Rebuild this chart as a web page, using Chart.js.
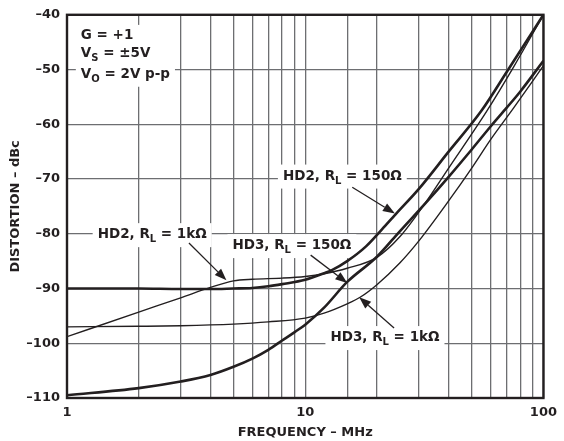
<!DOCTYPE html>
<html><head><meta charset="utf-8">
<script src="https://cdn.jsdelivr.net/npm/chart.js@4"></script>
<style>html,body{margin:0;padding:0;background:#fff;}</style>
</head><body>
<canvas id="c" width="564" height="441"></canvas>
<script>
const FONT = '"DejaVu Sans", sans-serif';
const INK = '#231f20';

// X tick labels shown (MHz) and Y range (dBc)
const xLabelValues = [1, 10, 100];
const yMin = -110, yMax = -40, yStep = 10;

// HD2, RL = 150 ohm
const freqHD2_150 = [1, 2, 3, 4, 5, 6, 7, 8, 10, 12, 13, 15, 18, 21, 24, 30, 40, 55, 70, 100];
const hd2_150     = [-90, -90, -90.1, -90.1, -90, -89.9, -89.6, -89.2, -88.4, -87.2, -86.6, -85, -82.3, -79.2, -76.4, -71.8, -65, -57.5, -50.5, -40];

// HD2, RL = 1k ohm
const freqHD2_1k = [1, 2, 3, 4, 5, 6, 8, 10, 12, 15, 20, 25, 32, 40, 58, 75, 100];
const hd2_1k     = [-98.8, -94.3, -91.7, -89.8, -88.6, -88.3, -88.1, -87.8, -87.3, -86.3, -84.3, -80.5, -74.3, -68, -57.5, -49.5, -40];

// HD3, RL = 150 ohm
const freqHD3_150 = [1, 2, 3, 4, 5, 6, 7, 8, 9, 10, 12, 15, 20, 25, 32, 40, 50, 60, 70, 80, 100];
const hd3_150     = [-109.5, -108.2, -107, -105.8, -104.3, -102.8, -101.2, -99.5, -98, -96.6, -93.5, -88.8, -84.2, -79.5, -74.4, -69.6, -64.6, -60.4, -57, -54, -48.4];

// HD3, RL = 1k ohm
const freqHD3_1k = [1, 2, 3, 5, 7, 10, 12, 15, 17, 20, 25, 30, 40, 50, 60, 75, 100];
const hd3_1k     = [-97, -96.9, -96.8, -96.5, -96.1, -95.4, -94.5, -92.8, -91.6, -89.3, -85.3, -81.3, -74, -68, -62.8, -57, -49.3];

const pts = (xs, ys) => xs.map((x, i) => ({x, y: ys[i]}));

// annotation text (parts: [text, isSubscript]) anchored at (MHz, dBc)
const condLines = [
  [['G = +1', 0]],
  [['V', 0], ['S', 1], [' = \u00B15V', 0]],
  [['V', 0], ['O', 1], [' = 2V p-p', 0]]
];
const condAnchor = {f: 1.143, v: [-44.4, -47.8, -51.5]};

const curveLabels = [
  {parts: [['HD2, R', 0], ['L', 1], [' = 150\u03A9', 0]], f: 8.06, v: -70.1},
  {parts: [['HD2, R', 0], ['L', 1], [' = 1k\u03A9', 0]], f: 1.345, v: -80.8},
  {parts: [['HD3, R', 0], ['L', 1], [' = 150\u03A9', 0]], f: 4.95, v: -82.8},
  {parts: [['HD3, R', 0], ['L', 1], [' = 1k\u03A9', 0]], f: 12.76, v: -99.6}
];
// arrows: from (f,v) to tip (f,v)
const arrows = [
  [[15.76, -71.5], [23.8, -76.3]],
  [[3.25, -81.7], [4.67, -88.5]],
  [[10.54, -83.9], [15.02, -89.0]],
  [[23.6, -97.2], [16.85, -91.6]]
];

const MAINF = 'bold 13.5px ' + FONT;
const SUBF = 'bold 10px ' + FONT;

function partsWidth(ctx, parts) {
  let w = 0;
  for (const [t, s] of parts) { ctx.font = s ? SUBF : MAINF; w += ctx.measureText(t).width; }
  return w;
}
function drawParts(ctx, parts, x, y) {
  ctx.textBaseline = 'alphabetic';
  ctx.textAlign = 'left';
  ctx.fillStyle = INK;
  for (const [t, s] of parts) {
    ctx.font = s ? SUBF : MAINF;
    ctx.fillText(t, x, s ? y + 4 : y);
    x += ctx.measureText(t).width;
  }
}

const annot = {
  id: 'annot',
  beforeDatasetsDraw(chart) {
    const ctx = chart.ctx, xs = chart.scales.x, ys = chart.scales.y;
    ctx.save();
    // condition block
    const cx = xs.getPixelForValue(condAnchor.f);
    let maxW = 0;
    condLines.forEach(l => maxW = Math.max(maxW, partsWidth(ctx, l)));
    const yTop = ys.getPixelForValue(condAnchor.v[0]) - 14;
    const yBot = ys.getPixelForValue(condAnchor.v[2]) + 9;
    ctx.fillStyle = '#fff';
    ctx.fillRect(cx - 5, Math.max(yTop, chart.chartArea.top + 1.5), maxW + 10, yBot - Math.max(yTop, chart.chartArea.top + 1.5));
    condLines.forEach((l, i) => drawParts(ctx, l, cx, ys.getPixelForValue(condAnchor.v[i])));
    // curve labels
    for (const lb of curveLabels) {
      const x = xs.getPixelForValue(lb.f), y = ys.getPixelForValue(lb.v);
      const w = partsWidth(ctx, lb.parts);
      ctx.fillStyle = '#fff';
      ctx.fillRect(x - 5, y - 15, w + 10, 24);
      drawParts(ctx, lb.parts, x, y);
    }
    ctx.restore();
  },
  afterDatasetsDraw(chart) {
    const ctx = chart.ctx, xs = chart.scales.x, ys = chart.scales.y;
    ctx.save();
    ctx.strokeStyle = INK; ctx.fillStyle = INK; ctx.lineWidth = 1.3;
    for (const [a, b] of arrows) {
      const x0 = xs.getPixelForValue(a[0]), y0 = ys.getPixelForValue(a[1]);
      const x1 = xs.getPixelForValue(b[0]), y1 = ys.getPixelForValue(b[1]);
      const ang = Math.atan2(y1 - y0, x1 - x0);
      const hl = 12, hw = 4.5;
      const bx = x1 - hl * Math.cos(ang), by = y1 - hl * Math.sin(ang);
      ctx.beginPath(); ctx.moveTo(x0, y0); ctx.lineTo(bx, by); ctx.stroke();
      ctx.beginPath();
      ctx.moveTo(x1, y1);
      ctx.lineTo(bx + hw * Math.sin(ang), by - hw * Math.cos(ang));
      ctx.lineTo(bx - hw * Math.sin(ang), by + hw * Math.cos(ang));
      ctx.closePath(); ctx.fill();
    }
    ctx.restore();
  },
  afterDraw(chart) {
    const {left, top, right, bottom} = chart.chartArea;
    const ctx = chart.ctx;
    ctx.save();
    ctx.strokeStyle = INK; ctx.lineWidth = 2.4;
    ctx.strokeRect(left, top, right - left, bottom - top);
    ctx.restore();
  }
};

const thick = {borderColor: INK, borderWidth: 2.6, pointRadius: 0, cubicInterpolationMode: 'monotone', fill: false};
const thin = {borderColor: INK, borderWidth: 1.4, pointRadius: 0, cubicInterpolationMode: 'monotone', fill: false};

new Chart(document.getElementById('c'), {
  type: 'line',
  data: {
    datasets: [
      Object.assign({label: 'HD2, RL = 150\u03A9', data: pts(freqHD2_150, hd2_150)}, thick),
      Object.assign({label: 'HD2, RL = 1k\u03A9', data: pts(freqHD2_1k, hd2_1k)}, thin),
      Object.assign({label: 'HD3, RL = 150\u03A9', data: pts(freqHD3_150, hd3_150)}, thick),
      Object.assign({label: 'HD3, RL = 1k\u03A9', data: pts(freqHD3_1k, hd3_1k)}, thin)
    ]
  },
  options: {
    responsive: false,
    animation: false,
    devicePixelRatio: 1,
    layout: {padding: {left: 0, top: 14, right: 16, bottom: 0}},
    plugins: {legend: {display: false}, tooltip: {enabled: false}},
    scales: {
      x: {
        type: 'logarithmic', min: 1, max: 100,
        afterFit(s) { s.height = 43; },
        border: {display: false},
        grid: {color: '#6d6e71', lineWidth: 1.3, drawTicks: false},
        ticks: {
          autoSkip: false, maxRotation: 0, padding: 7, color: INK,
          font: {family: FONT, size: 13, weight: 'bold'},
          callback: (v) => xLabelValues.includes(v) ? String(v) : ''
        },
        title: {display: true, text: 'FREQUENCY \u2013 MHz', color: INK,
          font: {family: FONT, size: 13, weight: 'bold'}, padding: {top: 0, bottom: 1}}
      },
      y: {
        type: 'linear', min: yMin, max: yMax,
        afterFit(s) { s.width = 67; },
        border: {display: false},
        grid: {color: '#6d6e71', lineWidth: 1.3, drawTicks: false},
        ticks: {
          stepSize: yStep, padding: 7, color: INK,
          font: {family: FONT, size: 13, weight: 'bold'},
          callback: (v) => (v < 0 ? '\u2013' : '') + Math.abs(v)
        },
        title: {display: true, text: 'DISTORTION \u2013 dBc', color: INK,
          font: {family: FONT, size: 13, weight: 'bold'}, padding: {top: 8, bottom: 0}}
      }
    }
  },
  plugins: [annot]
});
</script>
</body></html>
